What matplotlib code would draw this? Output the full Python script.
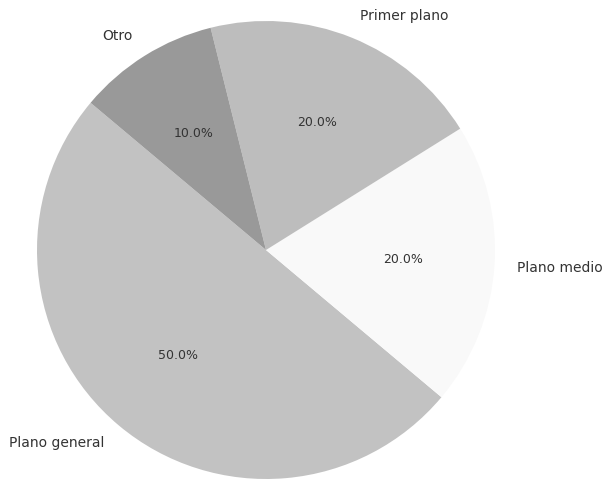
import matplotlib
matplotlib.use("Agg")
import matplotlib.pyplot as plt

# tipos de plano
labels = ["Plano general", "Plano medio", "Primer plano", "Otro"]
sizes = [50, 20, 20, 10]
colors = ["#c2c2c2", "#f9f9f9", "#bdbdbd", "#999999"]

fig = plt.figure(figsize=(6.04, 4.79), dpi=100)
# square box for the pie: centre (266, 250) px from top-left, radius 229 px
W, H = 604.0, 479.0
cx, cy, r = 266.0, 250.0, 229.0
ax = fig.add_axes([(cx - r) / W, (H - cy - r) / H, 2 * r / W, 2 * r / H])

wedges, texts, autotexts = ax.pie(sizes, labels=labels, colors=colors,
                                  autopct='%1.1f%%', startangle=140,
                                  textprops={'color': '#333333'})
for t in texts:
    t.set_fontsize(10)
for t in autotexts:
    t.set_fontsize(9)
ax.set_xlim(-1, 1)
ax.set_ylim(-1, 1)
ax.set_aspect('equal')

fig.savefig("out.png", dpi=100)
